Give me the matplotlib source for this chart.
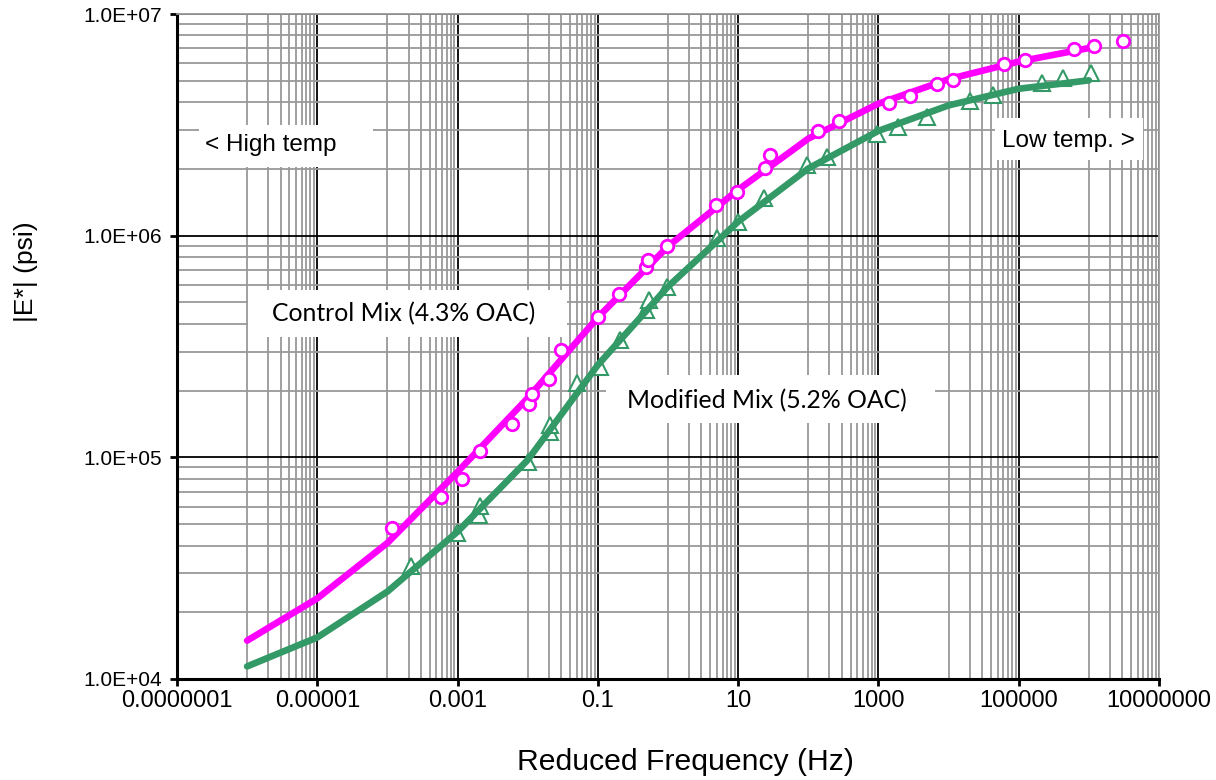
import matplotlib.pyplot as plt
from matplotlib.patches import Rectangle
from matplotlib.ticker import FixedLocator, NullFormatter

# measured dynamic modulus |E*| (psi) vs reduced frequency (Hz)
control_freq = [1.17e-4, 5.83e-4, 1.16e-3, 2.07e-3, 6.0e-3, 0.0104, 0.0115, 0.0203,
                0.0301, 0.101, 0.202, 0.49, 0.515, 0.977, 4.89, 9.75, 24.4, 28.1,
                139, 278, 1436, 2860, 6950, 11750, 61700, 1.21e5, 6.05e5, 1.19e6, 3.03e6]
control_e = [47800, 66500, 80000, 107000, 141500, 174000, 193800, 225800,
             303600, 427500, 546000, 724700, 777000, 901000, 1.376e6, 1.58e6, 2.01e6, 2.30e6,
             2.97e6, 3.30e6, 3.98e6, 4.28e6, 4.85e6, 5.04e6, 5.95e6, 6.2e6, 6.93e6, 7.19e6, 7.58e6]

modified_freq = [2.18e-4, 9.86e-4, 2.03e-3, 2.1e-3, 0.0102, 0.0209, 0.0209, 0.0508,
                 0.108, 0.209, 0.49, 0.541, 0.977, 5.05, 10.1, 23.7, 97, 187,
                 968, 1930, 5000, 20500, 42300, 2.18e5, 4.35e5, 1.06e6]
modified_e = [32400, 45600, 55000, 60400, 95300, 130200, 140000, 216600,
              255700, 338500, 462000, 512600, 587000, 977000, 1.152e6, 1.48e6, 2.08e6, 2.26e6,
              2.87e6, 3.09e6, 3.43e6, 4.05e6, 4.32e6, 4.89e6, 5.14e6, 5.42e6]

fit_freq_control = [1e-6, 1e-5, 1e-4, 1e-3, 1e-2, 0.1, 1, 10, 100, 1000, 1e4, 1e5, 1.2e6]
fit_e_control = [14900, 23100, 41100, 86000, 185000, 428000, 895000, 1.61e6, 2.74e6,
                 3.94e6, 5.08e6, 6.1e6, 7.1e6]
fit_freq_modified = [1e-6, 1e-5, 1e-4, 1e-3, 1e-2, 0.1, 1, 10, 100, 1000, 1e4, 1e5, 1e6]
fit_e_modified = [11400, 15400, 24800, 46200, 97300, 261000, 589000, 1.156e6, 2.01e6,
                  2.97e6, 3.87e6, 4.6e6, 5.02e6]

x_ticks = [1e-7, 1e-5, 1e-3, 1e-1, 1e1, 1e3, 1e5, 1e7]
x_labels = ['0.0000001', '0.00001', '0.001', '0.1', '10', '1000', '100000', '10000000']
y_ticks = [1e4, 1e5, 1e6, 1e7]
y_labels = ['1.0E+04', '1.0E+05', '1.0E+06', '1.0E+07']

magenta = '#FF00FF'
green = '#339966'

fig = plt.figure(figsize=(12.16, 7.8), dpi=100)
ax = fig.add_axes([177 / 1216, 1 - 679 / 780, 982 / 1216, 665 / 780])
ax.set_xscale('log')
ax.set_yscale('log')
ax.set_xlim(1e-7, 1e7)
ax.set_ylim(1e4, 1e7)

# excel style log gridlines (base 100 on x)
x_minor = [m * 10 * k for m in x_ticks[:-1] for k in range(1, 10)]
y_minor = [k * 10 ** n for n in range(4, 7) for k in range(2, 10)]
ax.xaxis.set_major_locator(FixedLocator(x_ticks))
ax.xaxis.set_minor_locator(FixedLocator(x_minor))
ax.yaxis.set_major_locator(FixedLocator(y_ticks))
ax.yaxis.set_minor_locator(FixedLocator(y_minor))
ax.set_xticklabels(x_labels, fontsize=17, family='Liberation Sans')
ax.set_yticklabels(y_labels, fontsize=15, family='Liberation Sans')
ax.xaxis.set_minor_formatter(NullFormatter())
ax.yaxis.set_minor_formatter(NullFormatter())
ax.tick_params(which='major', direction='out', length=5, width=2, pad=6)
ax.tick_params(axis='x', which='major', pad=3)
ax.tick_params(which='minor', length=0)
ax.grid(which='minor', color='#999999', lw=1.3, zorder=0)
ax.grid(which='major', color='black', lw=1.3, zorder=0)
ax.set_axisbelow(True)

for s in ['left', 'bottom']:
    ax.spines[s].set_linewidth(2.2)
for s in ['top', 'right']:
    ax.spines[s].set_color('#999999')
    ax.spines[s].set_linewidth(1.3)

ax.plot(modified_freq, modified_e, '^', ms=11, mfc='white', mec=green, mew=1.5,
        zorder=3, clip_on=False)
ax.plot(fit_freq_modified, fit_e_modified, '-', color=green, lw=4.8,
        solid_capstyle='round', zorder=4)
ax.plot(fit_freq_control, fit_e_control, '-', color=magenta, lw=4.8,
        solid_capstyle='round', zorder=5)
ax.plot(control_freq, control_e, 'o', ms=9, mfc='white', mec=magenta, mew=2,
        zorder=6, clip_on=False)

ax.set_xlabel('Reduced Frequency (Hz)', fontsize=21.7, family='Liberation Sans')
ax.xaxis.set_label_coords((685 - 177) / 982, -(762 - 679) / 665, transform=ax.transAxes)
ax.xaxis.label.set_va('center')
ax.set_ylabel('|E*| (psi)', fontsize=19, family='Liberation Sans')
ax.yaxis.set_label_coords((26 - 177) / 982, 1 - (272 - 14) / 665)
ax.yaxis.label.set_va('center')

# text boxes (pixel boxes converted to axes fractions)
def px_box(x0, y0, x1, y1):
    return Rectangle(((x0 - 177) / 982, 1 - (y1 - 14) / 665), (x1 - x0) / 982,
                     (y1 - y0) / 665, transform=ax.transAxes, fc='white', ec='none',
                     zorder=2)

for box in [(199, 125, 373, 167), (995, 118, 1143, 160), (248, 290, 567, 337),
            (606, 375, 935, 423)]:
    ax.add_patch(px_box(*box))

ax.text((205 - 177) / 982, 1 - (145 - 14) / 665, '< High temp', transform=ax.transAxes,
        fontsize=17.5, family='Liberation Sans', va='center', zorder=7)
ax.text((1002 - 177) / 982, 1 - (141 - 14) / 665, 'Low temp. >', transform=ax.transAxes,
        fontsize=17.5, family='Liberation Sans', va='center', zorder=7)
ax.text((272 - 177) / 982, 1 - (314 - 14) / 665, 'Control Mix (4.3% OAC)',
        transform=ax.transAxes, fontsize=17.8, family='Lato', va='center', zorder=7)
ax.text((627 - 177) / 982, 1 - (401 - 14) / 665, 'Modified Mix (5.2% OAC)',
        transform=ax.transAxes, fontsize=17.8, family='Lato', va='center', zorder=7)

fig.savefig('out.png', dpi=100)
